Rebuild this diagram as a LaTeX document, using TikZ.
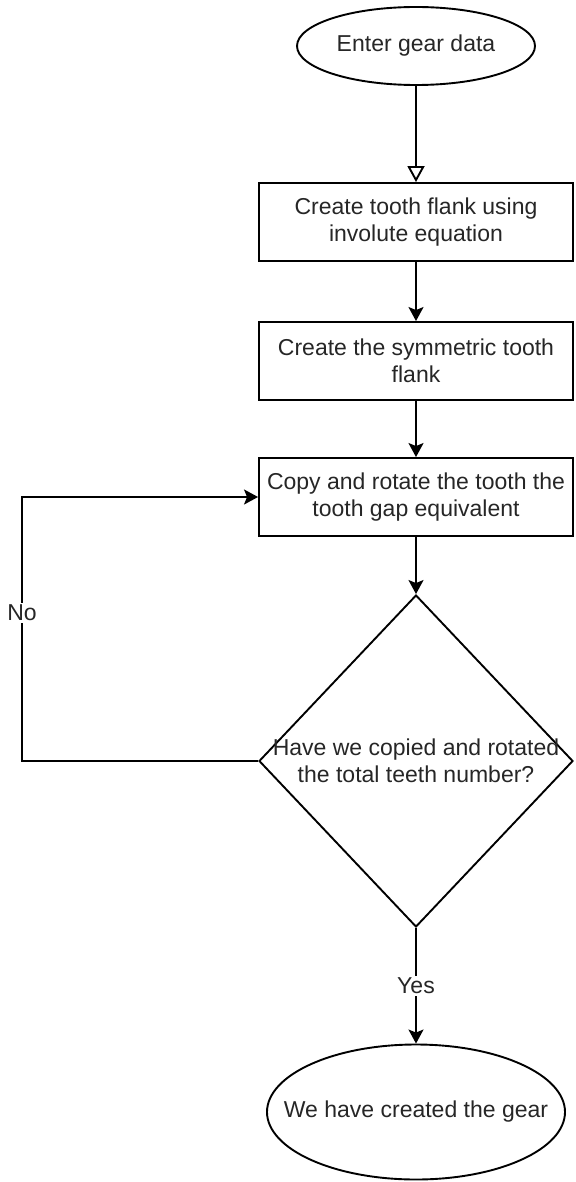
\documentclass[tikz,border=0pt]{standalone}
\usepackage{fontspec}
\setmainfont{Liberation Sans}
\usepackage{tikz}
\usetikzlibrary{shapes, arrows.meta, positioning}
\usepackage{xcolor}

\tikzset{
    terminal/.style={draw, ellipse, line width=1.9pt, inner sep=0pt},
    process/.style={draw, rectangle, line width=1.9pt, minimum width=314pt, minimum height=78pt, inner sep=0pt, align=center, text=black!85},
    decision/.style={draw, diamond, line width=1.9pt, minimum width=314pt, minimum height=332pt, inner sep=0pt},
    flow/.style={line width=1.9pt, -{Stealth[length=14pt, width=15pt, inset=3pt]}},
    answer/.style={fill=white, inner sep=2pt, text=black!85},
    caption/.style={align=center, text=black!85}
}

\begin{document}
\begin{tikzpicture}[x=1pt, y=-1pt, font=\fontsize{23}{27}\selectfont]
        \useasboundingbox (0,0) rectangle (575,1182);
        \node[terminal, minimum width=238pt, minimum height=78pt] (start) at (416, 46) {};
        \node[caption] (starttext) at (start.center) {Enter gear data};
        \node[process] (flank) at (416, 222) {Create tooth flank using\\involute equation};
        \node[process] (mirror) at (416, 361) {Create the symmetric tooth\\flank};
        \node[process] (rotate) at (416, 497) {Copy and rotate the tooth the\\tooth gap equivalent};
        \node[decision] (check) at (416, 761) {};
        \node[caption] (checktext) at (check.center) {Have we copied and rotated\\the total teeth number?};
        \node[terminal, minimum width=298pt, minimum height=135pt] (done) at (416, 1112) {};
        \node[caption] (donetext) at (done.center) {We have created the gear};

        \draw[line width=1.9pt, -{Triangle[open, length=16pt, width=17pt]}] (start) -- (flank);
        \draw[flow] (flank) -- (mirror);
        \draw[flow] (mirror) -- (rotate);
        \draw[flow] (rotate) -- (check);
        \draw[flow] (check) -- node[answer] {Yes} (done);
        % loop back while teeth remain
        \draw[flow] (check.west) -- ++(-236, 0) |- node[answer, pos=0.28] {No} (rotate.west);
    \end{tikzpicture}
\end{document}
